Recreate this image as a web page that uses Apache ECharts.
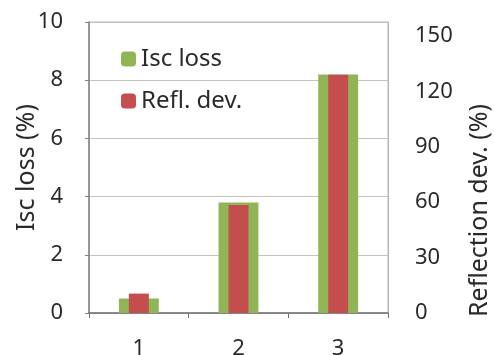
<!DOCTYPE html>
<html>
<head>
<meta charset="utf-8">
<script src="https://cdn.jsdelivr.net/npm/echarts@6/dist/echarts.min.js"></script>
<style>
  html, body { margin: 0; padding: 0; background: #fff; }
  #chart { width: 494px; height: 355px; }
</style>
</head>
<body>
<div id="chart"></div>
<script>
// categories and values
const categories = ['1', '2', '3']
const iscLoss = [0.5, 3.8, 8.2] // left axis, %
const reflDev = [10.5, 58.5, 129] // right axis, %
const leftMax = 10
const rightMax = 157.5 // 150 sits below the top of the plot

const font = 'Noto Sans'
let chart = echarts.init(document.getElementById('chart'))
chart.setOption({
  animation: false,
  textStyle: { fontFamily: font },
  grid: {
    left: 89, right: 106, top: 22, bottom: 42,
    outerBoundsMode: 'none',
    containLabel: false,
    show: true, borderColor: '#b5b5b5', borderWidth: 1
  },
  legend: {
    left: 116, top: 42,
    orient: 'vertical',
    itemWidth: 15, itemHeight: 15, itemGap: 18,
    textStyle: { fontSize: 24, color: '#2a2a2a', fontFamily: font },
    data: ['Isc loss', 'Refl. dev.']
  },
  xAxis: [
    {
      type: 'category',
      data: categories,
      axisLine: { lineStyle: { color: '#707070', width: 1.5 } },
      axisTick: { show: true, length: 5, lineStyle: { color: '#707070' } },
      axisLabel: { fontSize: 22, color: '#2a2a2a', margin: 25 }
    },
    {
      type: 'category',
      data: categories,
      show: false
    }
  ],
  yAxis: [
    {
      type: 'value',
      min: 0, max: leftMax, interval: 2,
      name: 'Isc loss (%)',
      nameLocation: 'middle',
      nameGap: 50,
      nameMoveOverlap: false,
      nameTextStyle: { fontSize: 25, color: '#2a2a2a' },
      axisLine: { show: true, lineStyle: { color: '#808080', width: 1.5 } },
      axisTick: { show: true, length: 4, lineStyle: { color: '#808080' } },
      axisLabel: { fontSize: 22, color: '#2a2a2a', margin: 26 },
      splitLine: { lineStyle: { color: '#c4c4c4' } }
    },
    {
      type: 'value',
      min: 0, max: rightMax, interval: 30,
      position: 'right',
      name: 'Reflection dev. (%)',
      nameLocation: 'middle',
      nameGap: 79,
      nameMoveOverlap: false,
      nameTextStyle: { fontSize: 25, color: '#2a2a2a', padding: [0, 86, 0, 0] },
      axisLine: { show: true, lineStyle: { color: '#b5b5b5' } },
      axisTick: { show: false },
      axisLabel: { fontSize: 22, color: '#2a2a2a', margin: 27, showMaxLabel: false },
      splitLine: { show: false }
    }
  ],
  series: [
    {
      name: 'Isc loss',
      type: 'bar',
      xAxisIndex: 0,
      yAxisIndex: 0,
      barWidth: '40%',
      itemStyle: { color: '#8fb556' },
      data: iscLoss
    },
    {
      name: 'Refl. dev.',
      type: 'bar',
      xAxisIndex: 1,
      yAxisIndex: 1,
      barWidth: '20%',
      itemStyle: { color: '#c44d4d' },
      data: reflDev
    }
  ]
})
</script>
</body>
</html>
